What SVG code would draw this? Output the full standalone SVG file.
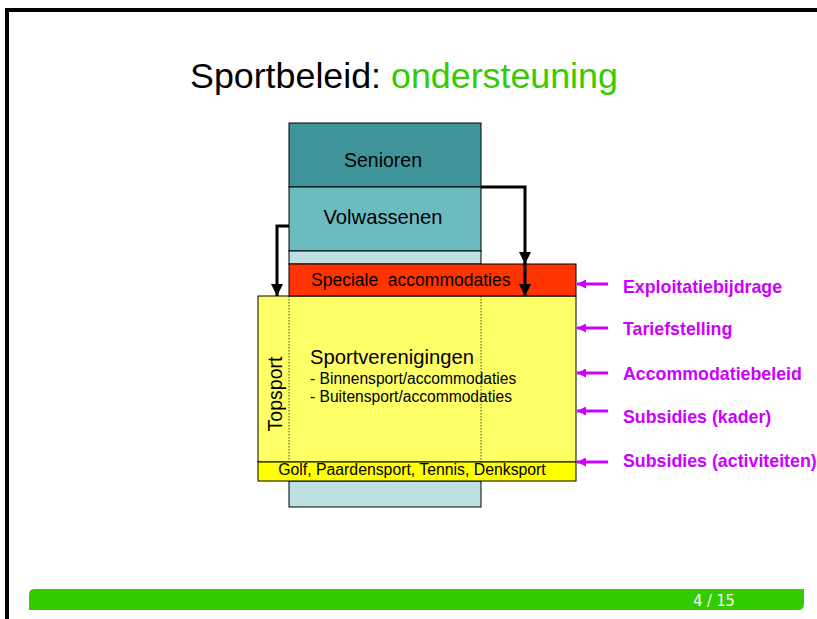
<svg xmlns="http://www.w3.org/2000/svg" width="817" height="619" viewBox="0 0 817 619">
<style>
.t{font-family:"Liberation Sans",Arial,sans-serif;fill:#000}
.m{font-family:"Liberation Sans",Arial,sans-serif;font-weight:bold;font-size:17.8px;fill:#cc00ff}
.box{stroke:#000;stroke-width:1}
.conn{fill:none;stroke:#000;stroke-width:3}
.mag{fill:none;stroke:#cc00ff;stroke-width:3}
</style>
<defs>
<marker id="ah" viewBox="0 0 10 10" refX="10" refY="5" markerWidth="4" markerHeight="4" orient="auto" markerUnits="strokeWidth">
<path d="M0,0 L10,5 L0,10 z" fill="#000"/>
</marker>
<marker id="mh" viewBox="0 0 10 10" refX="10" refY="5" markerWidth="3" markerHeight="3" orient="auto" markerUnits="strokeWidth">
<path d="M0,0 L10,5 L0,10 z" fill="#cc00ff"/>
</marker>
</defs>
<rect width="817" height="619" fill="#fff"/>
<path d="M7,619 V10 H817" fill="none" stroke="#000" stroke-width="4"/>
<text x="190" y="88" class="t" font-size="35.8">Sportbeleid: <tspan fill="#33cc00">ondersteuning</tspan></text>

<g id="bottom-band"><rect x="289" y="481" width="192" height="26" fill="#bde0e2" class="box"/></g>
<g id="sportverenigingen">
<rect x="258" y="296" width="318" height="166" fill="#ffff66" class="box"/>
<line x1="289" y1="296" x2="289" y2="462" stroke="#000" stroke-width="0.7" stroke-dasharray="1.5,1.5"/>
<line x1="481" y1="296" x2="481" y2="462" stroke="#000" stroke-width="0.7" stroke-dasharray="1.5,1.5"/>
<text x="310" y="364" class="t" font-size="20.2">Sportverenigingen</text>
<text x="310" y="384" class="t" font-size="15.6">- Binnensport/accommodaties</text>
<text x="310" y="402" class="t" font-size="15.6">- Buitensport/accommodaties</text>
</g>
<g id="topsport"><text transform="translate(282,394) rotate(-90)" text-anchor="middle" class="t" font-size="19.5">Topsport</text></g>
<g id="golf"><rect x="258" y="462" width="318" height="19" fill="#ffff00" class="box"/>
<text x="412" y="475" text-anchor="middle" class="t" font-size="15.8">Golf, Paardensport, Tennis, Denksport</text></g>
<g id="senioren"><rect x="289" y="123" width="192" height="64" fill="#3f9499" class="box"/>
<text x="383" y="167" text-anchor="middle" class="t" font-size="19.5">Senioren</text></g>
<g id="volwassenen"><rect x="289" y="187" width="192" height="64" fill="#6bbcc0" class="box"/>
<text x="383" y="224" text-anchor="middle" class="t" font-size="20.2">Volwassenen</text></g>
<g id="jeugd"><rect x="289" y="251" width="192" height="13" fill="#bde0e2" class="box"/></g>
<g id="speciale"><rect x="289" y="264" width="287" height="32" fill="#ff3300" class="box"/>
<text x="311" y="286" class="t" font-size="17.5" style="white-space:pre" xml:space="preserve">Speciale  accommodaties</text></g>

<g id="connectors">
<path class="conn" d="M481,187 H525 V264" marker-end="url(#ah)"/>
<path class="conn" d="M525,262 V296" marker-end="url(#ah)"/>
<path class="conn" d="M289,226 H277 V296" marker-end="url(#ah)"/>
<path class="mag" d="M608,284 H577" marker-end="url(#mh)"/>
<path class="mag" d="M608,328 H577" marker-end="url(#mh)"/>
<path class="mag" d="M608,373 H577" marker-end="url(#mh)"/>
<path class="mag" d="M608,411 H577" marker-end="url(#mh)"/>
<path class="mag" d="M608,462 H577" marker-end="url(#mh)"/>
</g>
<g id="labels">
<text x="623" y="293" class="m">Exploitatiebijdrage</text>
<text x="623" y="335" class="m">Tariefstelling</text>
<text x="623" y="380" class="m">Accommodatiebeleid</text>
<text x="623" y="423" class="m">Subsidies (kader)</text>
<text x="623" y="467" class="m">Subsidies (activiteiten)</text>
</g>
<g id="footer">
<path d="M34,589 H804 V604 Q804,610 798,610 H29 V595 Q29,589 34,589 z" fill="#33cc00"/>
<text x="714" y="606" text-anchor="middle" font-family="DejaVu Sans Condensed, DejaVu Sans, sans-serif" font-size="16" fill="#fff">4 / 15</text>
</g>
</svg>
